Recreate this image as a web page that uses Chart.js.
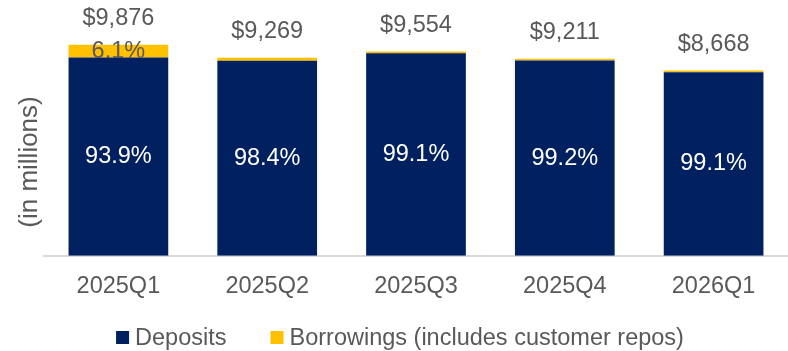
<!DOCTYPE html>
<html>
<head>
<meta charset="utf-8">
<script src="https://cdn.jsdelivr.net/npm/chart.js@4"></script>
<style>
  html, body { margin: 0; padding: 0; background: #fff; }
  #wrap { width: 788px; height: 351px; }
</style>
</head>
<body>
<div id="wrap"><canvas id="fundingChart" width="788" height="351"></canvas></div>
<script>
// Datos del gráfico
const quarters = ['2025Q1', '2025Q2', '2025Q3', '2025Q4', '2026Q1'];
const totals = [9876, 9269, 9554, 9211, 8668];
const depositPct = [93.9, 98.4, 99.1, 99.2, 99.1];

const deposits = totals.map((t, i) => t * depositPct[i] / 100);
const borrowings = totals.map((t, i) => t - deposits[i]);

const NAVY = '#002060';
const GOLD = '#FFC000';
const GREY = '#595959';
const FONT = "'Liberation Sans', Arial, sans-serif";
const SIZE = 23.5;

// Etiquetas, título vertical y leyenda
const barLabels = {
    id: 'barLabels',
    afterDatasetsDraw(chart) {
        const ctx = chart.ctx;
        const depMeta = chart.getDatasetMeta(0);
        const borMeta = chart.getDatasetMeta(1);
        ctx.save();
        ctx.textAlign = 'center';
        ctx.textBaseline = 'middle';
        ctx.font = SIZE + 'px ' + FONT;
        quarters.forEach((q, i) => {
            const dep = depMeta.data[i];
            const bor = borMeta.data[i];
            ctx.fillStyle = '#ffffff';
            ctx.fillText(depositPct[i].toFixed(1) + '%', dep.x, (dep.y + dep.base) / 2);
            const borPct = 100 - depositPct[i];
            if (borPct > 5) {
                ctx.fillStyle = GREY;
                ctx.fillText(borPct.toFixed(1) + '%', bor.x, (bor.y + bor.base) / 2);
            }
            ctx.fillStyle = GREY;
            ctx.fillText('$' + totals[i].toLocaleString('en-US'), bor.x, bor.y - 26);
        });

        // leyenda abajo
        const sets = chart.data.datasets;
        const widths = sets.map(d => ctx.measureText(d.label).width);
        const box = 13, gapText = 6, gapItem = 44;
        const total = widths.reduce((a, w) => a + box + gapText + w, 0) + gapItem * (sets.length - 1);
        let x = 400 - total / 2;
        const ly = 337.5;
        ctx.textAlign = 'left';
        sets.forEach((d, i) => {
            ctx.fillStyle = d.backgroundColor;
            ctx.fillRect(x, ly - box / 2, box, box);
            ctx.fillStyle = GREY;
            ctx.fillText(d.label, x + box + gapText, ly + 1);
            x += box + gapText + widths[i] + gapItem;
        });

        // título del eje vertical
        ctx.textAlign = 'center';
        ctx.font = '26px ' + FONT;
        ctx.translate(30, 162);
        ctx.rotate(-Math.PI / 2);
        ctx.fillText('(in millions)', 0, 0);
        ctx.restore();
    }
};

const chart = new Chart(document.getElementById('fundingChart'), {
    type: 'bar',
    data: {
        labels: quarters,
        datasets: [
            {
                label: 'Deposits',
                data: deposits,
                backgroundColor: NAVY,
                categoryPercentage: 1,
                barPercentage: 0.67
            },
            {
                label: 'Borrowings (includes customer repos)',
                data: borrowings,
                backgroundColor: GOLD,
                categoryPercentage: 1,
                barPercentage: 0.67
            }
        ]
    },
    options: {
        responsive: false,
        animation: false,
        layout: { padding: { left: 44, right: 0, top: 42, bottom: 33 } },
        plugins: {
            tooltip: { enabled: false },
            legend: { display: false }
        },
        scales: {
            x: {
                stacked: true,
                grid: { display: false, drawTicks: false },
                border: { display: true, color: '#d9d9d9', width: 2 },
                ticks: {
                    color: GREY,
                    padding: 17,
                    font: { family: FONT, size: SIZE }
                }
            },
            y: {
                stacked: true,
                display: false,
                min: 0,
                max: 10000
            }
        }
    },
    plugins: [barLabels]
});
</script>
</body>
</html>
